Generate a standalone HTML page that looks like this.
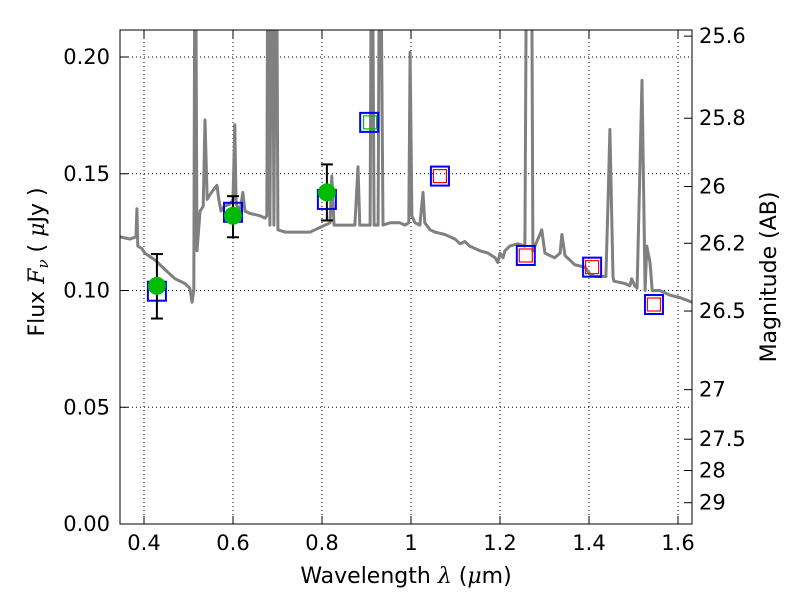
<!DOCTYPE html>
<html><head><meta charset="utf-8"><style>
html,body{margin:0;padding:0;background:#fff;}
svg{display:block;font-family:"DejaVu Sans","Liberation Sans",sans-serif;}
</style></head><body>
<svg id="chart" width="800" height="600" viewBox="0 0 800 600" xmlns="http://www.w3.org/2000/svg">
<defs><clipPath id="clip"><rect x="120" y="30" width="572" height="494"/></clipPath></defs>
<rect x="0" y="0" width="800" height="600" fill="#fff"/>
<g id="grid"></g>
<g id="spec" clip-path="url(#clip)"></g>
<g id="marks"></g>
<rect x="120" y="30" width="572" height="494" fill="none" stroke="#000" stroke-width="1"/>
<g id="axes"></g>
<text x="406" y="583" font-size="22" text-anchor="middle">Wavelength  <tspan font-family="DejaVu Serif" font-style="italic">λ</tspan> (<tspan font-family="DejaVu Serif" font-style="italic">μ</tspan>m)</text>
<text transform="translate(44,262) rotate(-90)" font-size="22" text-anchor="middle">Flux  <tspan font-family="DejaVu Serif" font-style="italic">F</tspan><tspan font-family="DejaVu Serif" font-style="italic" font-size="15" dy="4">ν</tspan><tspan dy="-4">  (  </tspan><tspan font-family="DejaVu Serif" font-style="italic">μ</tspan>Jy )</text>
<text transform="translate(776,277) rotate(-90)" font-size="22" text-anchor="middle">Magnitude (AB)</text>
</svg>
<script>
const specWave=[0.346,0.368,0.382,0.384,0.386,0.395,0.402,0.425,0.447,0.470,0.492,0.503,0.508,0.512,0.515,0.519,0.526,0.533,0.537,0.542,0.548,0.559,0.564,0.568,0.573,0.580,0.593,0.600,0.604,0.607,0.616,0.622,0.627,0.638,0.661,0.672,0.676,0.679,0.683,0.688,0.692,0.697,0.701,0.717,0.728,0.750,0.773,0.784,0.795,0.807,0.818,0.822,0.827,0.840,0.863,0.874,0.881,0.885,0.908,0.912,0.917,0.926,0.930,0.937,0.953,0.975,0.986,0.995,0.998,1.002,1.009,1.020,1.027,1.031,1.043,1.054,1.076,1.099,1.110,1.121,1.132,1.155,1.173,1.189,1.195,1.200,1.207,1.211,1.222,1.240,1.256,1.261,1.270,1.274,1.294,1.301,1.323,1.335,1.339,1.346,1.368,1.391,1.402,1.413,1.438,1.443,1.447,1.454,1.456,1.481,1.492,1.496,1.503,1.508,1.519,1.526,1.530,1.537,1.542,1.559,1.582,1.604,1.631];
const specFlux=[0.123,0.122,0.123,0.135,0.119,0.118,0.116,0.113,0.109,0.105,0.103,0.101,0.095,0.100,0.300,0.117,0.134,0.136,0.173,0.139,0.141,0.144,0.145,0.139,0.134,0.136,0.137,0.139,0.171,0.137,0.134,0.142,0.134,0.133,0.132,0.131,0.132,0.300,0.128,0.300,0.128,0.300,0.126,0.125,0.125,0.125,0.125,0.126,0.127,0.128,0.129,0.149,0.128,0.128,0.128,0.128,0.153,0.128,0.128,0.300,0.128,0.128,0.300,0.128,0.129,0.129,0.128,0.129,0.202,0.132,0.129,0.128,0.142,0.129,0.126,0.125,0.124,0.122,0.120,0.121,0.119,0.117,0.116,0.114,0.112,0.116,0.114,0.117,0.119,0.120,0.119,0.300,0.300,0.117,0.126,0.116,0.114,0.116,0.124,0.115,0.111,0.110,0.107,0.106,0.106,0.139,0.169,0.106,0.104,0.103,0.102,0.105,0.102,0.101,0.190,0.100,0.119,0.112,0.100,0.100,0.098,0.097,0.095];
const modelWave=[0.429,0.600,0.811,0.906,1.065,1.258,1.407,1.546];
const modelFlux=[0.0997,0.1335,0.139,0.172,0.149,0.115,0.110,0.094];
const obsWave=[0.429,0.600,0.811];
const obsFlux=[0.102,0.132,0.142];
const obsErrLo=[0.088,0.1228,0.130];
const obsErrHi=[0.1156,0.1404,0.154];
const uplimWave=[0.908];
const uplimFlux=[0.172];
const predWave=[1.065,1.258,1.407,1.546];
const predFlux=[0.149,0.115,0.110,0.094];
const xTicks=[0.4,0.6,0.8,1.0,1.2,1.4,1.6];
const xTickLabels=["0.4","0.6","0.8","1","1.2","1.4","1.6"];
const yTicks=[0,0.05,0.10,0.15,0.20];
const yTickLabels=["0.00","0.05","0.10","0.15","0.20"];
const magTicks=[25.6,25.8,26,26.2,26.5,27,27.5,28,29];
const magTickLabels=["25.6","25.8","26","26.2","26.5","27","27.5","28","29"];

const NS="http://www.w3.org/2000/svg";
const X=v=>144+(v-0.4)*445;
const Y=v=>524-v*2335;
const magToFlux=m=>Math.pow(10,(23.9-m)/2.5);
function mk(tag,attrs,parent){const e=document.createElementNS(NS,tag);for(const k in attrs)e.setAttribute(k,attrs[k]);parent.appendChild(e);return e;}
const grid=document.getElementById('grid'),axes=document.getElementById('axes'),spec=document.getElementById('spec'),marks=document.getElementById('marks');
xTicks.forEach((t,i)=>{
  const x=X(t);
  const g=mk('line',{x1:x,x2:x,y1:30,y2:524,stroke:'#000','stroke-width':1,'stroke-dasharray':'1,3'},grid);
  
  
  mk('line',{x1:x,x2:x,y1:524,y2:516,stroke:'#000'},axes);
  mk('line',{x1:x,x2:x,y1:30,y2:38,stroke:'#000'},axes);
  const tx=mk('text',{x:x,y:550,'font-size':21,'text-anchor':'middle'},axes);
  tx.textContent=xTickLabels[i];
  
  
});
yTicks.forEach((t,i)=>{
  const y=Y(t);
  const g=mk('line',{x1:120,x2:692,y1:y,y2:y,stroke:'#000','stroke-width':1,'stroke-dasharray':'1,3'},grid);
  
  
  mk('line',{x1:120,x2:128,y1:y,y2:y,stroke:'#000'},axes);
  const tx=mk('text',{x:110,y:y+7,'font-size':21,'text-anchor':'end'},axes);
  tx.textContent=yTickLabels[i];
  
  
});
magTicks.forEach((m,i)=>{
  const y=Y(magToFlux(m));
  mk('line',{x1:684,x2:692,y1:y,y2:y,stroke:'#000'},axes);
  const tx=mk('text',{x:699,y:y+7,'font-size':21},axes);
  tx.textContent=magTickLabels[i];
  
  
});
const pts=specWave.map((w,i)=>X(w).toFixed(1)+','+Y(specFlux[i]).toFixed(1)).join(' ');
const pl=mk('polyline',{points:pts,fill:'none',stroke:'#808080','stroke-width':3,'stroke-linejoin':'round'},spec);


modelWave.forEach((w,i)=>{
  const r=mk('rect',{x:X(w)-9,y:Y(modelFlux[i])-9.5,width:18,height:19,fill:'none',stroke:'#0000ff','stroke-width':2},marks);
  
  
});
uplimWave.forEach((w,i)=>{
  const r=mk('rect',{x:X(w)-6.5,y:Y(uplimFlux[i])-6.5,width:13,height:13,fill:'none',stroke:'#00bb00','stroke-width':1.2},marks);
  
  
});
predWave.forEach((w,i)=>{
  const r=mk('rect',{x:X(w)-6.5,y:Y(predFlux[i])-6.5,width:13,height:13,fill:'none',stroke:'#ff0000','stroke-width':1.2},marks);
  
  
});
obsWave.forEach((w,i)=>{
  const x=X(w),y1=Y(obsErrHi[i]),y2=Y(obsErrLo[i]);
  const g=mk('g',{},marks);
  
  
  mk('line',{x1:x,x2:x,y1:y1,y2:y2,stroke:'#000','stroke-width':2},g);
  mk('line',{x1:x-6,x2:x+6,y1:y1,y2:y1,stroke:'#000','stroke-width':2},g);
  mk('line',{x1:x-6,x2:x+6,y1:y2,y2:y2,stroke:'#000','stroke-width':2},g);
  const c=mk('circle',{cx:x,cy:Y(obsFlux[i]),r:9,fill:'#00bb00'},marks);
  
  
});
</script>
</body></html>
